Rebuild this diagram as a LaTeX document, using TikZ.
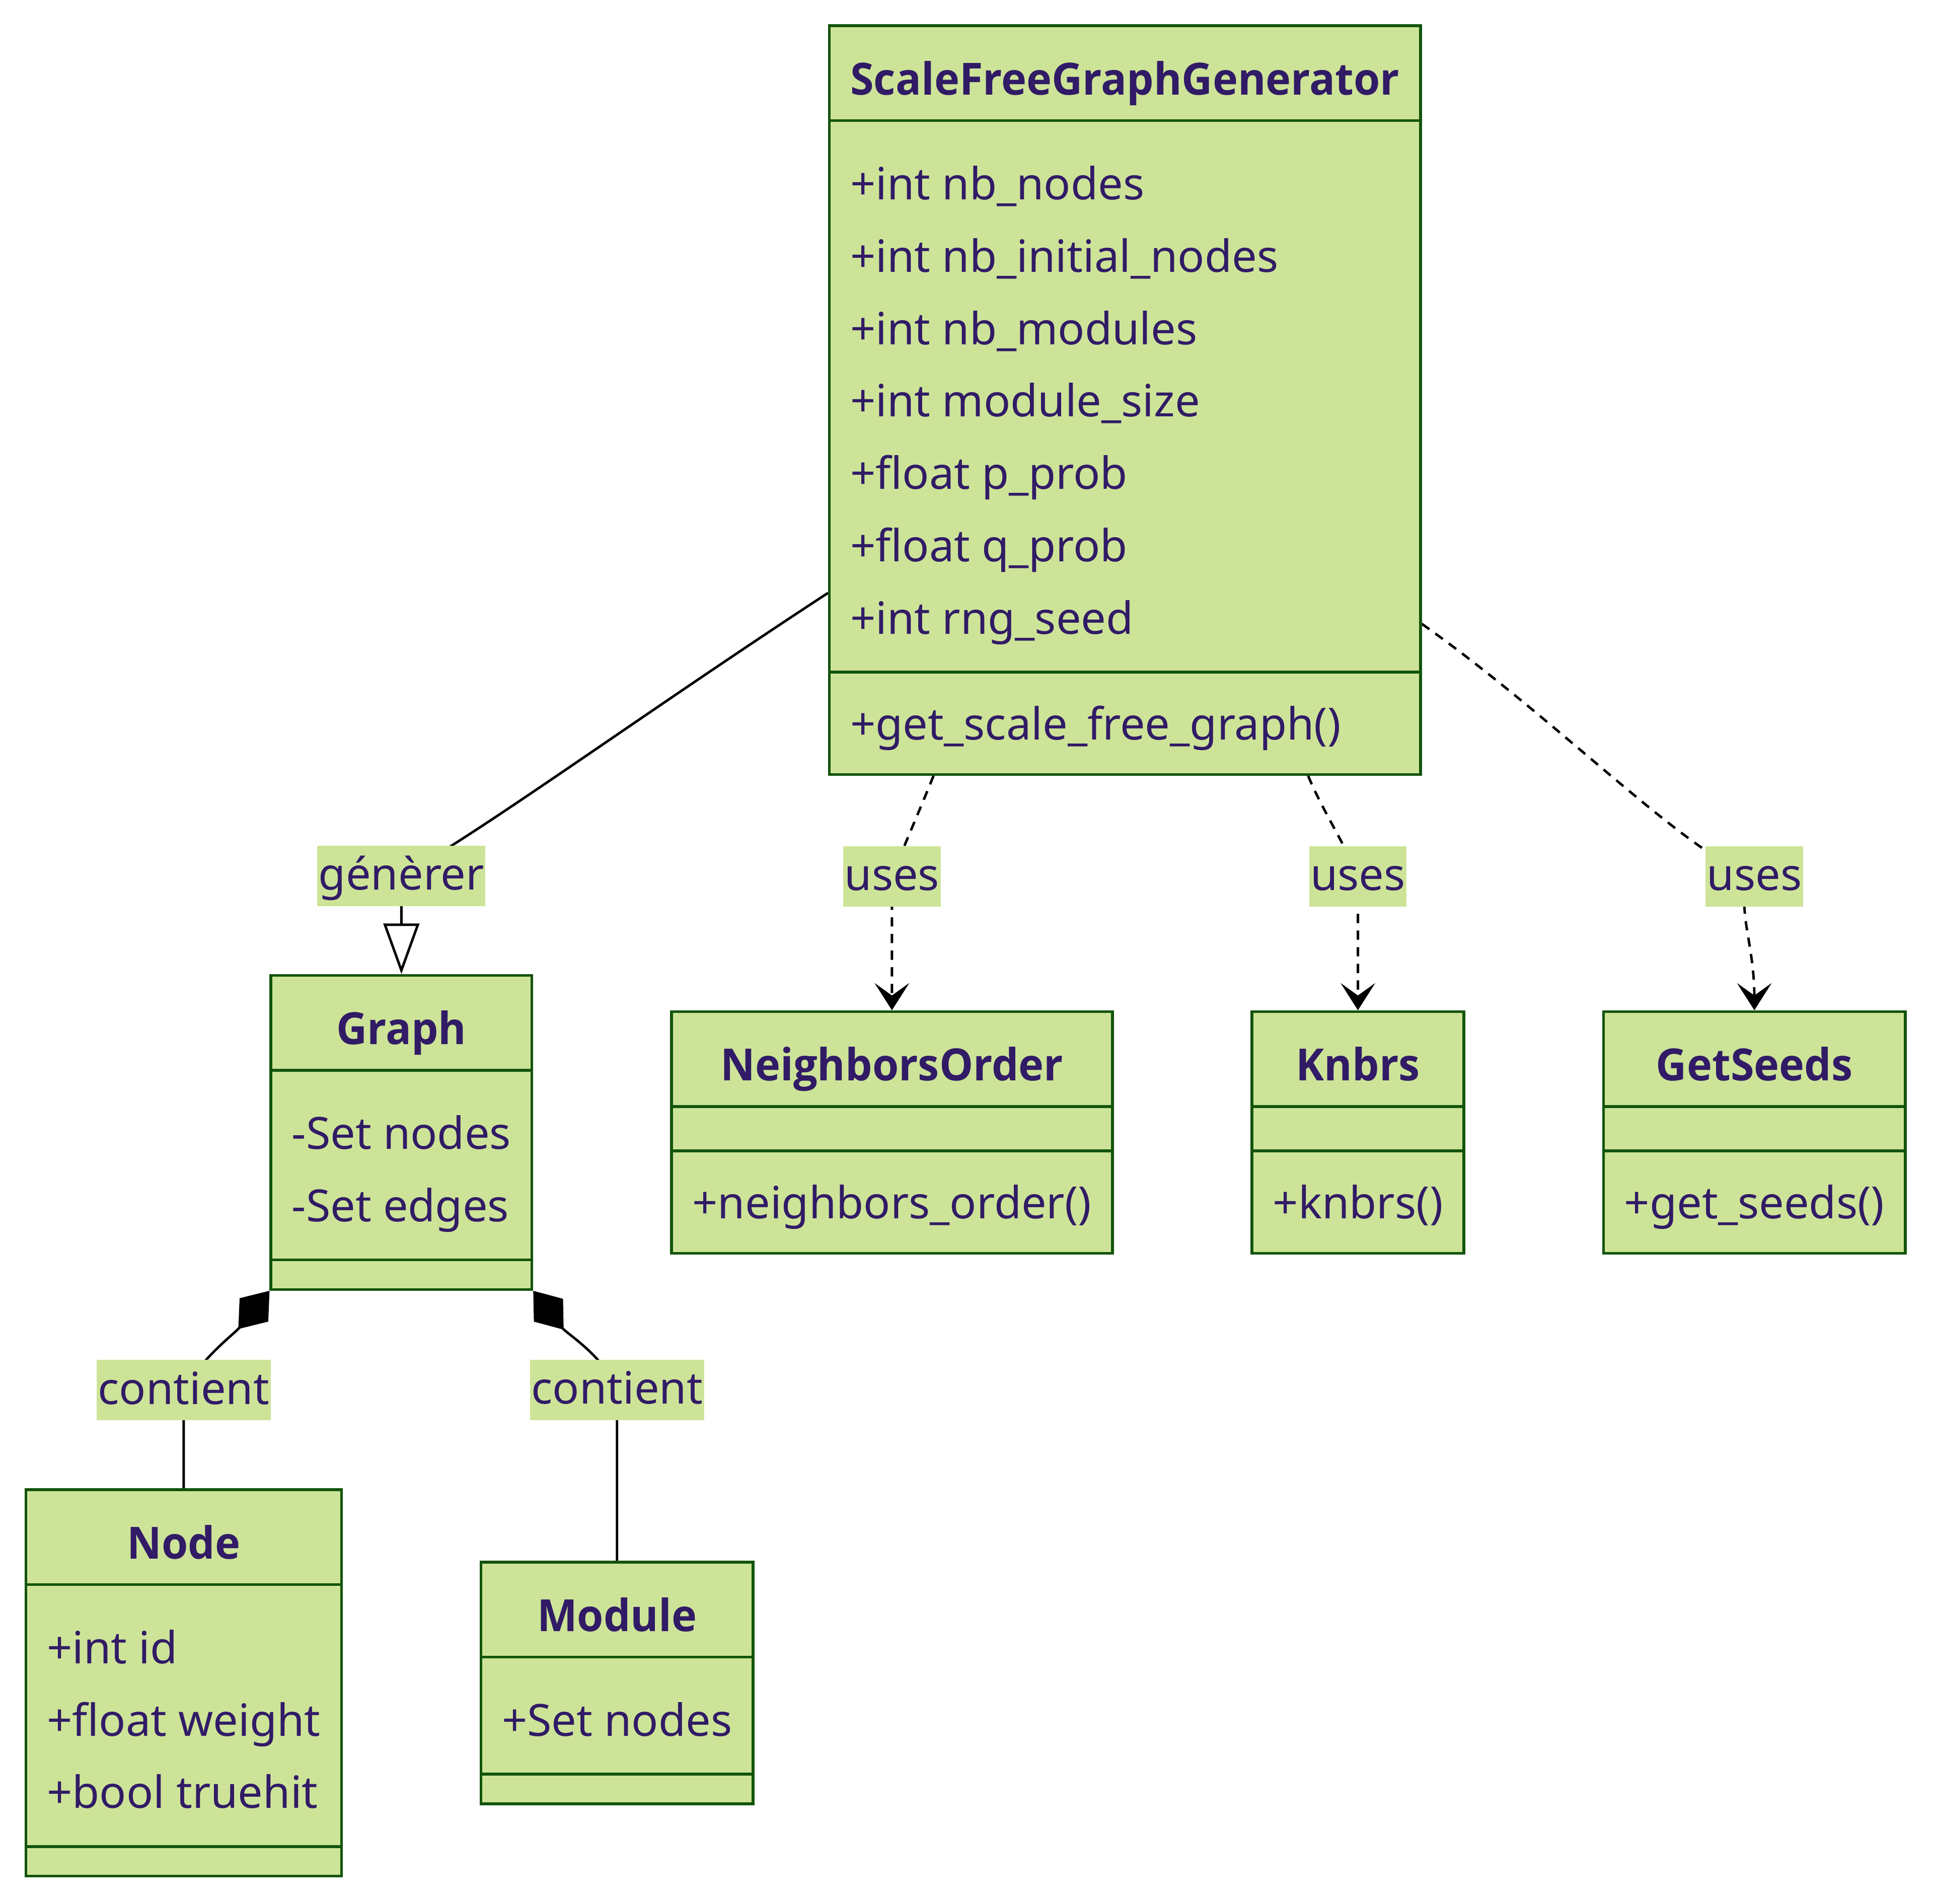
\documentclass[tikz,border=0pt]{standalone}
\usepackage{fontspec}
\setmainfont{Noto Sans}
\newfontfamily\headfont{Open Sans}[FakeStretch=0.96]
\usetikzlibrary{positioning,shapes.multipart,arrows.meta,backgrounds}

\definecolor{clsfill}{HTML}{CDE498}
\definecolor{clsline}{HTML}{13540C}
\definecolor{clstext}{HTML}{311B66}

% one text line, its height kept out of the part sizes
\newcommand\mline[1]{\hbox{\smash{#1}}}
\newcommand\ctitle[1]{\vbox{\kern54.9pt\mline{\headfont\bfseries #1}\kern19.9pt}}
\newcommand\cattrs[1]{\vbox{\baselineskip=58.7pt\lineskiplimit=-1000pt\kern62.9pt#1\kern29.9pt}}
\newcommand\cops[1]{\vbox{\baselineskip=58.7pt\lineskiplimit=-1000pt\kern53.9pt#1\kern26.9pt}}
\newcommand\cnone[1]{\vbox{\hbox{\kern1pt}\kern#1}}

\tikzset{
    classbox/.style={rectangle split, rectangle split parts=3,
        rectangle split part align={center,left,left},
        draw=clsline, fill=clsfill, line width=2.2pt, text=clstext,
        inner xsep=17pt, inner ysep=0pt},
    edgelabel/.style={fill=clsfill, text=clstext, inner xsep=1pt, inner ysep=0pt,
        minimum height=49pt, text height=29pt, text depth=6pt},
    usesarrow/.style={line width=2pt, dash pattern=on 7.5pt off 6pt,
        -{Stealth[length=22pt,width=28pt,inset=10pt]}},
    genarrow/.style={line width=2pt, -{Triangle[length=41pt,width=29pt,fill=white]}},
    comparrow/.style={line width=2pt, {Diamond[length=40pt,width=30pt]}-},
}

\begin{document}
\begin{tikzpicture}
                [x=1pt,y=-1pt,font=\fontsize{36}{43}\selectfont]
                \useasboundingbox (0,0) rectangle (1568,1544);

                \node[classbox] (sfgg) at (912.5,324.5) {\ctitle{ScaleFreeGraphGenerator}
                    \nodepart{second}\cattrs{\mline{+int nb\_nodes}
                        \mline{+int nb\_initial\_nodes}
                        \mline{+int nb\_modules}
                        \mline{+int module\_size}
                        \mline{+float p\_prob}
                        \mline{+float q\_prob}
                        \mline{+int rng\_seed}}
                    \nodepart{third}\cops{\mline{+get\_scale\_free\_graph()}}};

                \node[classbox] (nbrorder) at (723.5,918.5) {\ctitle{NeighborsOrder}
                    \nodepart{second}\cnone{33.8pt}
                    \nodepart{third}\cops{\mline{+neighbors\_order()}}};
                \node[classbox] (graph) [left=111pt of nbrorder] {\ctitle{Graph}
                    \nodepart{second}\cattrs{\mline{-Set nodes}\mline{-Set edges}}
                    \nodepart{third}\cnone{21.8pt}};
                \node[classbox] (knbrs) [right=111pt of nbrorder] {\ctitle{Knbrs}
                    \nodepart{second}\cnone{33.8pt}
                    \nodepart{third}\cops{\mline{+knbrs()}}};
                \node[classbox] (seeds) [right=111pt of knbrs] {\ctitle{GetSeeds}
                    \nodepart{second}\cnone{33.8pt}
                    \nodepart{third}\cops{\mline{+get\_seeds()}}};

                \node[classbox] (gnode) at (149,1365) {\ctitle{Node}
                    \nodepart{second}\cattrs{\mline{+int id}\mline{+float weight}\mline{+bool truehit}}
                    \nodepart{third}\cnone{21.8pt}};
                \node[classbox] (gmodule) [right=111pt of gnode] {\ctitle{Module}
                    \nodepart{second}\cattrs{\mline{+Set nodes}}
                    \nodepart{third}\cnone{21.8pt}};

                \node[edgelabel] (tgen) [above=55pt of graph] {génèrer};
                \node[edgelabel] (tuse1) [above=84pt of nbrorder] {uses};
                \node[edgelabel] (tuse2) [above=84pt of knbrs] {uses};
                \node[edgelabel] (tuse3) [above=84pt of seeds] {uses};
                \node[edgelabel] (tcont1) [above=55pt of gnode] {contient};
                \node[edgelabel] (tcont2) [above=114pt of gmodule] {contient};

                \begin{scope}[on background layer]
                    \draw[genarrow] (sfgg.213.5) .. controls (520,580) and (390,675) .. (tgen.center) -- (graph.north);
                    \draw[usesarrow] (sfgg.243.8) .. controls +(-10,25) and +(10,-25) .. (tuse1.center)
                        .. controls +(0,25) and +(0,-40) .. (nbrorder.north);
                    \draw[usesarrow] (sfgg.296.2) .. controls +(10,25) and +(-10,-25) .. (tuse2.center)
                        .. controls +(0,25) and +(0,-40) .. (knbrs.north);
                    \draw[usesarrow] (sfgg.323) .. controls (1265,585) and (1370,695) .. (tuse3.center)
                        .. controls (1405,730) and (1423,760) .. (seeds.north);
                    \draw[comparrow] (graph.south west) .. controls (190,1082) and (165,1100) .. (tcont1.center) -- (gnode.north);
                    \draw[comparrow] (graph.south east) .. controls (460,1082) and (490,1100) .. (tcont2.center) -- (gmodule.north);
                \end{scope}
            \end{tikzpicture}
\end{document}
